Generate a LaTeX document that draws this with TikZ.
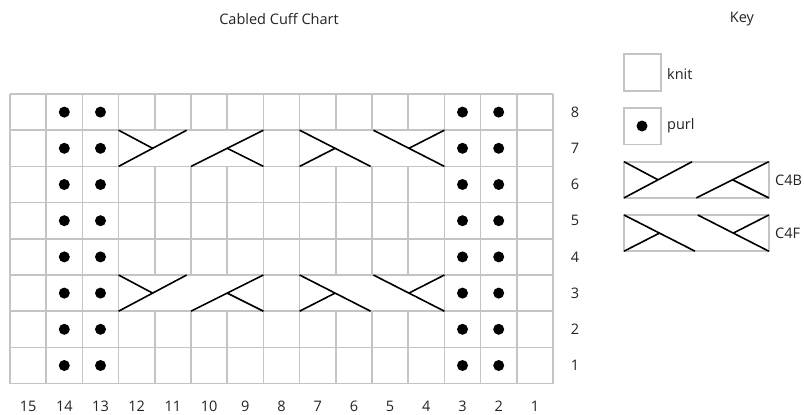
\documentclass[tikz,border=0pt]{standalone}
\usepackage{fontspec}
\setmainfont{Open Sans}
\definecolor{gridgray}{RGB}{196,196,196}
\definecolor{txt}{RGB}{35,35,35}
\tikzset{
  gridline/.style={draw=gridgray,line width=1.7pt},
  cable/.style={draw=black,line width=1.6pt},
  lbl/.style={font=\fontsize{14.5}{17}\selectfont,text=txt,inner sep=0pt},
  keylbl/.style={lbl,anchor=west},
}
\newcommand\CableB[2]{%
  \begin{scope}[shift={(#1,#2)}]
    \draw[cable] (0,0) -- (34.0,18.1);
    \draw[cable] (0,36.2) -- (68.1,0);
    \draw[cable] (72.4,36.2) -- (144.8,0);
    \draw[cable] (108.6,18.1) -- (144.8,36.2);
  \end{scope}}
\newcommand\CableF[2]{%
  \begin{scope}[shift={(#1,#2)}]
    \draw[cable] (0,0) -- (71.0,36.2);
    \draw[cable] (0,36.2) -- (35.5,18.1);
    \draw[cable] (73.8,0) -- (144.8,36.2);
    \draw[cable] (109.3,18.1) -- (144.8,0);
  \end{scope}}
\begin{document}
\begin{tikzpicture}[x=1pt,y=-1pt]
\useasboundingbox[fill=white] (0,0) rectangle (804,415);
% titles
\node[lbl] (title) at (279,19) {Cabled Cuff Chart};
\node[lbl] (key) at (742,19) {Key};
% grid
\foreach \i in {0,...,15} \draw[gridline] ({10+\i*36.2},94) -- ++(0,289.6);
\foreach \j in {0,...,8} \draw[gridline] (10,{94+\j*36.2}) -- ++(543,0);
% cable white-outs
\foreach \cx in {118.6,299.6} \foreach \cy in {130.2,275.0}
  \fill[white] ({\cx+0.9},{\cy+0.9}) rectangle ({\cx+144.8-0.9},{\cy+36.2-0.9});
\CableB{118.6}{130.2}
\CableF{299.6}{130.2}
\CableB{118.6}{275.0}
\CableF{299.6}{275.0}
% purl dots
\foreach \cx in {64.3,100.5,462.5,498.7} \foreach \j in {0,...,7}
  \fill[black] (\cx,{112.1+\j*36.2}) circle (5.5pt);
% row labels
\foreach \r in {1,...,8}
  \node[lbl] (row\r) at (575,{383.6-(\r-0.5)*36.2}) {\r};
% column labels
\foreach \c in {1,...,15}
  \node[lbl] (col\c) at ({553-(\c-0.5)*36.2},406) {\c};
% key
\draw[gridline] (624,54) rectangle (661,91);
\node[keylbl] (knit) at (667,74) {knit};
\draw[gridline] (624,108) rectangle (661,144.5);
\fill[black] (642,126) circle (5.5pt);
\node[keylbl] (purl) at (667,126) {purl};
\draw[gridline] (624,161.7) rectangle (768.8,197.9);
\CableB{624}{161.7}
\node[keylbl] (c4b) at (775,180) {C4B};
\draw[gridline] (624,215) rectangle (768.8,251.2);
\CableF{624}{215}
\node[keylbl] (c4f) at (775,233) {C4F};
\end{tikzpicture}
\end{document}
